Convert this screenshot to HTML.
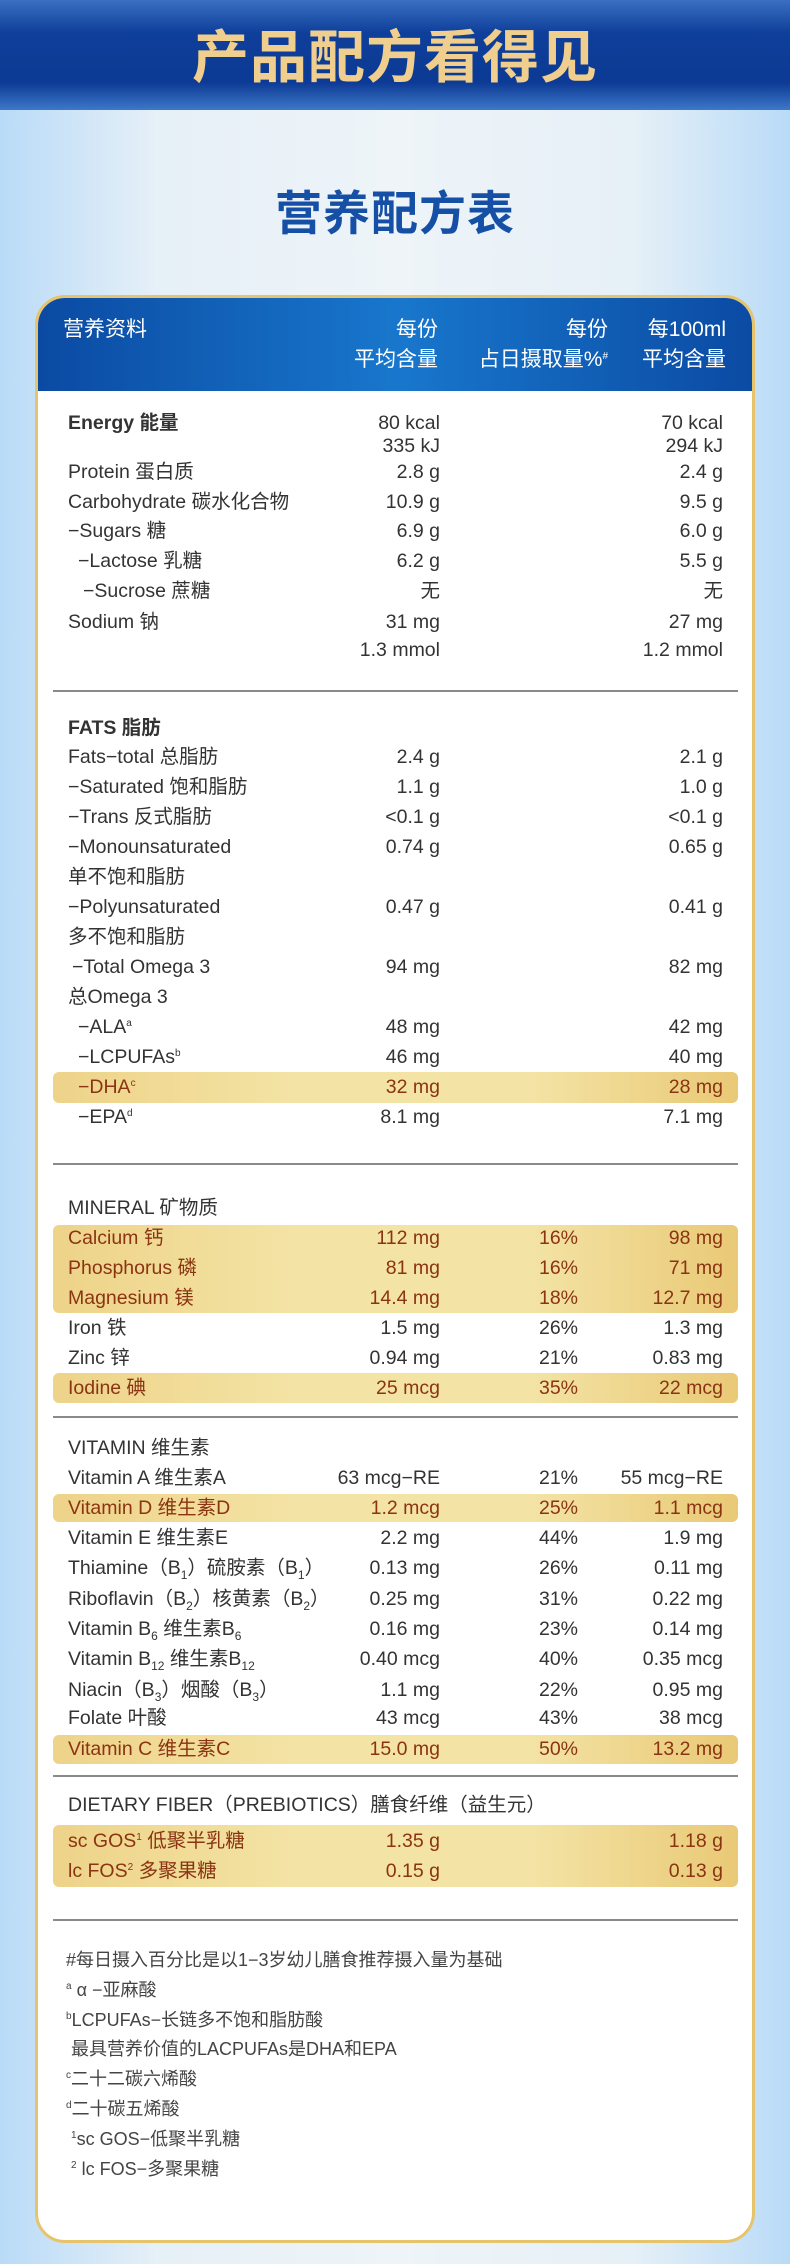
<!DOCTYPE html>
<html><head><meta charset="utf-8"><style>
*{margin:0;padding:0;box-sizing:border-box}
body{width:790px;height:2264px;position:relative;overflow:hidden;font-family:"Liberation Sans","Noto Sans CJK SC",sans-serif;background:linear-gradient(90deg,#b9dbf7 0%,#e6f0f7 20%,#eef4f8 50%,#e6f0f7 80%,#b9dbf7 100%)}
.band{position:absolute;left:0;top:0;width:790px;height:110px;background:linear-gradient(180deg,#3a6fc2 0%,#0e3f9a 30%,#0c3a94 75%,#3d78c9 100%)}
.t1{position:absolute;left:0;width:790px;top:20px;text-align:center;font-size:57px;font-weight:bold;line-height:76px;color:#f0cf8e;letter-spacing:1px}
.t2{position:absolute;left:0;width:790px;top:186px;text-align:center;font-size:47px;font-weight:bold;line-height:56px;color:#1550a6;letter-spacing:1px}
.card{position:absolute;left:35px;top:295px;width:720px;height:1948px;background:#fff;border:3px solid #e6c46c;border-radius:30px;overflow:hidden}
.head{position:absolute;left:0;top:0;width:720px;height:93px;background:linear-gradient(90deg,#0b4aa3 0%,#1877cc 50%,#0b4aa3 100%)}
.h{position:absolute;color:#fff;font-size:21px;line-height:30px}
.r{position:absolute;left:0;width:790px;height:30px;line-height:30px;font-size:19.5px;color:#333}
.r span{position:absolute;white-space:nowrap}
.a{left:68px}.b{right:350px}.c{right:212px}.d{right:67px}
.hl{position:absolute;left:53px;width:685px;background:linear-gradient(90deg,#eed389 0%,#f3e3a4 35%,#f3e3a4 70%,#e9c976 100%);border-radius:6px}
.g{color:#8b3413}
.ln{position:absolute;left:53px;width:685px;height:2px;background:#8a8a8a}
sup,sub{line-height:0}
sup{font-size:10px;vertical-align:7px}
sub{font-size:12px}
.bold{font-weight:bold}
.f{position:absolute;left:66px;font-size:18px;line-height:30px;color:#444;white-space:nowrap}
</style></head><body>
<div class="band"></div>
<div class="t1">产品配方看得见</div>
<div class="t2">营养配方表</div>
<div class="card"><div class="head"></div></div>
<div class="h" style="left:63px;top:315px">营养资料</div>
<div class="h" style="right:352px;top:315px">每份</div>
<div class="h" style="right:352px;top:345px">平均含量</div>
<div class="h" style="right:182px;top:315px">每份</div>
<div class="h" style="right:182px;top:345px">占日摄取量%<sup>#</sup></div>
<div class="h" style="right:64px;top:315px">每100ml</div>
<div class="h" style="right:64px;top:345px">平均含量</div>

<div class="hl" style="top:1072px;height:31px"></div>
<div class="hl" style="top:1225px;height:88px"></div>
<div class="hl" style="top:1373px;height:30px"></div>
<div class="hl" style="top:1494px;height:28px"></div>
<div class="hl" style="top:1735px;height:29px"></div>
<div class="hl" style="top:1825px;height:62px"></div>

<div class="r bold" style="top:408px"><span class="a">Energy 能量</span></div>
<div class="r" style="top:408px"><span class="b">80 kcal</span><span class="d">70 kcal</span></div>
<div class="r" style="top:431px"><span class="b">335 kJ</span><span class="d">294 kJ</span></div>
<div class="r" style="top:457px"><span class="a">Protein 蛋白质</span><span class="b">2.8 g</span><span class="d">2.4 g</span></div>
<div class="r" style="top:487px"><span class="a">Carbohydrate 碳水化合物</span><span class="b">10.9 g</span><span class="d">9.5 g</span></div>
<div class="r" style="top:516px"><span class="a">−Sugars 糖</span><span class="b">6.9 g</span><span class="d">6.0 g</span></div>
<div class="r" style="top:546px"><span class="a" style="left:78px">−Lactose 乳糖</span><span class="b">6.2 g</span><span class="d">5.5 g</span></div>
<div class="r" style="top:576px"><span class="a" style="left:83px">−Sucrose 蔗糖</span><span class="b">无</span><span class="d">无</span></div>
<div class="r" style="top:607px"><span class="a">Sodium 钠</span><span class="b">31 mg</span><span class="d">27 mg</span></div>
<div class="r" style="top:635px"><span class="b">1.3 mmol</span><span class="d">1.2 mmol</span></div>
<div class="ln" style="top:690px"></div>

<div class="r bold" style="top:713px"><span class="a">FATS 脂肪</span></div>
<div class="r" style="top:742px"><span class="a">Fats−total 总脂肪</span><span class="b">2.4 g</span><span class="d">2.1 g</span></div>
<div class="r" style="top:772px"><span class="a">−Saturated 饱和脂肪</span><span class="b">1.1 g</span><span class="d">1.0 g</span></div>
<div class="r" style="top:802px"><span class="a">−Trans 反式脂肪</span><span class="b">&lt;0.1 g</span><span class="d">&lt;0.1 g</span></div>
<div class="r" style="top:832px"><span class="a">−Monounsaturated</span><span class="b">0.74 g</span><span class="d">0.65 g</span></div>
<div class="r" style="top:862px"><span class="a">单不饱和脂肪</span></div>
<div class="r" style="top:892px"><span class="a">−Polyunsaturated</span><span class="b">0.47 g</span><span class="d">0.41 g</span></div>
<div class="r" style="top:922px"><span class="a">多不饱和脂肪</span></div>
<div class="r" style="top:952px"><span class="a" style="left:72px">−Total Omega 3</span><span class="b">94 mg</span><span class="d">82 mg</span></div>
<div class="r" style="top:982px"><span class="a">总Omega 3</span></div>
<div class="r" style="top:1012px"><span class="a" style="left:78px">−ALA<sup>a</sup></span><span class="b">48 mg</span><span class="d">42 mg</span></div>
<div class="r" style="top:1042px"><span class="a" style="left:78px">−LCPUFAs<sup>b</sup></span><span class="b">46 mg</span><span class="d">40 mg</span></div>
<div class="r g" style="top:1072px"><span class="a" style="left:78px">−DHA<sup>c</sup></span><span class="b">32 mg</span><span class="d">28 mg</span></div>
<div class="r" style="top:1102px"><span class="a" style="left:78px">−EPA<sup>d</sup></span><span class="b">8.1 mg</span><span class="d">7.1 mg</span></div>
<div class="ln" style="top:1163px"></div>

<div class="r" style="top:1193px"><span class="a">MINERAL 矿物质</span></div>
<div class="r g" style="top:1223px"><span class="a">Calcium 钙</span><span class="b">112 mg</span><span class="c">16%</span><span class="d">98 mg</span></div>
<div class="r g" style="top:1253px"><span class="a">Phosphorus 磷</span><span class="b">81 mg</span><span class="c">16%</span><span class="d">71 mg</span></div>
<div class="r g" style="top:1283px"><span class="a">Magnesium 镁</span><span class="b">14.4 mg</span><span class="c">18%</span><span class="d">12.7 mg</span></div>
<div class="r" style="top:1313px"><span class="a">Iron 铁</span><span class="b">1.5 mg</span><span class="c">26%</span><span class="d">1.3 mg</span></div>
<div class="r" style="top:1343px"><span class="a">Zinc 锌</span><span class="b">0.94 mg</span><span class="c">21%</span><span class="d">0.83 mg</span></div>
<div class="r g" style="top:1373px"><span class="a">Iodine 碘</span><span class="b">25 mcg</span><span class="c">35%</span><span class="d">22 mcg</span></div>
<div class="ln" style="top:1416px"></div>

<div class="r" style="top:1433px"><span class="a">VITAMIN 维生素</span></div>
<div class="r" style="top:1463px"><span class="a">Vitamin A 维生素A</span><span class="b">63 mcg−RE</span><span class="c">21%</span><span class="d">55 mcg−RE</span></div>
<div class="r g" style="top:1493px"><span class="a">Vitamin D 维生素D</span><span class="b">1.2 mcg</span><span class="c">25%</span><span class="d">1.1 mcg</span></div>
<div class="r" style="top:1523px"><span class="a">Vitamin E 维生素E</span><span class="b">2.2 mg</span><span class="c">44%</span><span class="d">1.9 mg</span></div>
<div class="r" style="top:1553px"><span class="a">Thiamine（B<sub>1</sub>）硫胺素（B<sub>1</sub>）</span><span class="b">0.13 mg</span><span class="c">26%</span><span class="d">0.11 mg</span></div>
<div class="r" style="top:1584px"><span class="a">Riboflavin（B<sub>2</sub>）核黄素（B<sub>2</sub>）</span><span class="b">0.25 mg</span><span class="c">31%</span><span class="d">0.22 mg</span></div>
<div class="r" style="top:1614px"><span class="a">Vitamin B<sub>6</sub> 维生素B<sub>6</sub></span><span class="b">0.16 mg</span><span class="c">23%</span><span class="d">0.14 mg</span></div>
<div class="r" style="top:1644px"><span class="a">Vitamin B<sub>12</sub> 维生素B<sub>12</sub></span><span class="b">0.40 mcg</span><span class="c">40%</span><span class="d">0.35 mcg</span></div>
<div class="r" style="top:1675px"><span class="a">Niacin（B<sub>3</sub>）烟酸（B<sub>3</sub>）</span><span class="b">1.1 mg</span><span class="c">22%</span><span class="d">0.95 mg</span></div>
<div class="r" style="top:1703px"><span class="a">Folate 叶酸</span><span class="b">43 mcg</span><span class="c">43%</span><span class="d">38 mcg</span></div>
<div class="r g" style="top:1734px"><span class="a">Vitamin C 维生素C</span><span class="b">15.0 mg</span><span class="c">50%</span><span class="d">13.2 mg</span></div>
<div class="ln" style="top:1775px"></div>

<div class="r" style="top:1790px"><span class="a">DIETARY FIBER（PREBIOTICS）膳食纤维（益生元）</span></div>
<div class="r g" style="top:1826px"><span class="a">sc GOS<sup>1</sup> 低聚半乳糖</span><span class="b">1.35 g</span><span class="d">1.18 g</span></div>
<div class="r g" style="top:1856px"><span class="a">lc FOS<sup>2</sup> 多聚果糖</span><span class="b">0.15 g</span><span class="d">0.13 g</span></div>
<div class="ln" style="top:1919px"></div>

<div class="f" style="top:1945px">#每日摄入百分比是以1−3岁幼儿膳食推荐摄入量为基础</div>
<div class="f" style="top:1975px"><sup>a</sup> α −亚麻酸</div>
<div class="f" style="top:2005px"><sup>b</sup>LCPUFAs−长链多不饱和脂肪酸</div>
<div class="f" style="top:2034px">&nbsp;最具营养价值的LACPUFAs是DHA和EPA</div>
<div class="f" style="top:2064px"><sup>c</sup>二十二碳六烯酸</div>
<div class="f" style="top:2094px"><sup>d</sup>二十碳五烯酸</div>
<div class="f" style="top:2124px">&nbsp;<sup>1</sup>sc GOS−低聚半乳糖</div>
<div class="f" style="top:2154px">&nbsp;<sup>2</sup> lc FOS−多聚果糖</div>
</body></html>
